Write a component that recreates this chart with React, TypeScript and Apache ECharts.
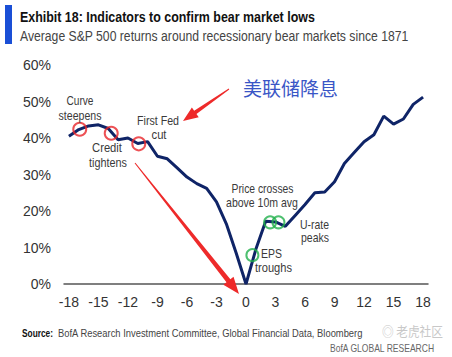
import React, { useEffect, useRef } from "react";
import * as echarts from "echarts";

const months = [-18,-17,-16,-15,-14,-13,-12,-11,-10,-9,-8,-7,-6,-5,-4,-3,-2,-1,0,1,2,3,4,5,6,7,8,9,10,11,12,13,14,15,16,17,18];
const returns = [40.5,42.3,43.3,43.6,42.6,39.5,40.0,38.5,39.0,35.0,34.3,31.8,29.3,27.5,26.2,22.5,16.5,8.5,0,9.5,17.2,17.0,15.8,18.8,21.8,25.0,25.2,28.0,33.0,36.0,39.0,40.9,46.0,43.8,45.2,49.2,51.2];
const xTickLabels = [-18,-15,-12,-9,-6,-3,0,3,6,9,12,15,18];
const redMarkers = [[-16.9, 42.4], [-13.7, 41.3], [-10.9, 38.4]];
const greenMarkers = [[0.65, 7.9], [2.45, 16.9], [3.3, 16.9]];

const FONT = "'Liberation Sans', Arial, sans-serif";

let measureCtx: CanvasRenderingContext2D | null = null;
function measure(text: string, font: string) {
  if (!measureCtx) measureCtx = document.createElement("canvas").getContext("2d");
  measureCtx!.font = font;
  return measureCtx!.measureText(text).width;
}

function arrowPoints(tx: number, ty: number, px: number, py: number, w0: number, w1: number, hw: number, hl: number) {
  const dx = px - tx, dy = py - ty;
  const len = Math.sqrt(dx * dx + dy * dy);
  const ux = dx / len, uy = dy / len;
  const nx = -uy, ny = ux;
  const bx = px - ux * hl, by = py - uy * hl;
  return [
    [tx + nx * w0 / 2, ty + ny * w0 / 2],
    [bx + nx * w1 / 2, by + ny * w1 / 2],
    [bx + nx * hw / 2, by + ny * hw / 2],
    [px, py],
    [bx - nx * hw / 2, by - ny * hw / 2],
    [bx - nx * w1 / 2, by - ny * w1 / 2],
    [tx - nx * w0 / 2, ty - ny * w0 / 2],
  ];
}

function fitText(text: string, x: number, y: number, width: number, font: string, fill: string, align: "left" | "center" = "center") {
  const w = measure(text, font);
  const s = Math.min(1.2, width / w);
  return {
    type: "text",
    x,
    y,
    scaleX: s,
    z: 10,
    style: { text, font, fill, textAlign: align, textVerticalAlign: "middle" },
  };
}

export default function App() {
  const ref = useRef<HTMLDivElement>(null);
  useEffect(() => {
    const chart = echarts.init(ref.current!, null, { renderer: "svg" });
    const ann = `13px ${FONT}`;
    const annFill = "#3a3a3a";
    chart.setOption({
      animation: false,
      backgroundColor: "#ffffff",
      grid: { left: 64, right: 24, top: 65, bottom: 73 },
      xAxis: {
        type: "value",
        min: -18.5,
        max: 18.5,
        axisLine: { show: true, lineStyle: { color: "#555", width: 1.5 } },
        axisTick: { show: false },
        splitLine: { show: false },
        axisLabel: { customValues: xTickLabels, color: "#333", fontSize: 14, fontFamily: FONT, margin: 11 },
      },
      yAxis: {
        type: "value",
        min: 0,
        max: 60,
        interval: 10,
        axisLine: { show: false },
        axisTick: { show: false },
        splitLine: { show: false },
        axisLabel: { formatter: "{value}%", color: "#333", fontSize: 14, fontFamily: FONT, margin: 13 },
      },
      series: [
        {
          type: "line",
          data: months.map((m, i) => [m, returns[i]]),
          showSymbol: false,
          lineStyle: { color: "#0f2467", width: 3 },
          z: 2,
        },
        {
          type: "scatter",
          data: redMarkers,
          symbol: "circle",
          symbolSize: 13,
          itemStyle: { color: "transparent", borderColor: "#e8262a", borderWidth: 2 },
          z: 3,
        },
        {
          type: "scatter",
          data: greenMarkers,
          symbol: "circle",
          symbolSize: 12,
          itemStyle: { color: "transparent", borderColor: "#22b04c", borderWidth: 2 },
          z: 3,
        },
      ],
      graphic: [
        { type: "rect", shape: { x: 5, y: 5, width: 7, height: 39 }, style: { fill: "#1a4fd6" } },
        fitText("Exhibit 18: Indicators to confirm bear market lows", 20, 17, 295, `bold 15px ${FONT}`, "#111", "left"),
        fitText("Average S&P 500 returns around recessionary bear markets since 1871", 20, 36, 389, `15px ${FONT}`, "#444", "left"),
        fitText("Curve", 80, 100, 27, ann, annFill),
        fitText("steepens", 80, 116, 43, ann, annFill),
        fitText("Credit", 107, 148, 30, ann, annFill),
        fitText("tightens", 108, 163, 38, ann, annFill),
        fitText("First Fed", 158, 121, 42, ann, annFill),
        fitText("cut", 159, 135, 15, ann, annFill),
        fitText("Price crosses", 262.5, 188, 62, ann, annFill),
        fitText("above 10m avg", 262, 203, 72, ann, annFill),
        fitText("U-rate", 300, 224, 29, ann, annFill, "left"),
        fitText("peaks", 301, 238, 28, ann, annFill, "left"),
        fitText("EPS", 271.5, 254, 21, ann, annFill),
        fitText("troughs", 273.5, 268, 37, ann, annFill),
        { type: "text", x: 243, y: 87, style: { text: "美联储降息", fill: "#3a56c6", font: `19px 'Noto Sans CJK SC', sans-serif`, textVerticalAlign: "middle" }, z: 10 },
        { type: "polygon", shape: { points: arrowPoints(229, 89, 183, 121, 1, 4, 12, 15) }, style: { fill: "#ee2a2a" }, z: 11 },
        { type: "polygon", shape: { points: arrowPoints(135, 163, 239, 294, 1, 5, 13, 17) }, style: { fill: "#ee2a2a" }, z: 11 },
        fitText("Source:", 22, 333, 31, `bold 11px ${FONT}`, "#111", "left"),
        fitText("BofA Research Investment Committee, Global Financial Data, Bloomberg", 58, 333, 305, `11px ${FONT}`, "#444", "left"),
        fitText("BofA GLOBAL RESEARCH", 330, 348, 105, `11px ${FONT}`, "#666", "left"),
        fitText("◎ 老虎社区", 382, 331, 61, `13px 'Noto Sans CJK SC', sans-serif`, "#c8c8c8", "left"),
      ],
    });
    return () => chart.dispose();
  }, []);
  return <div ref={ref} style={{ width: 452, height: 357, position: "absolute", left: 0, top: 0 }} />;
}
